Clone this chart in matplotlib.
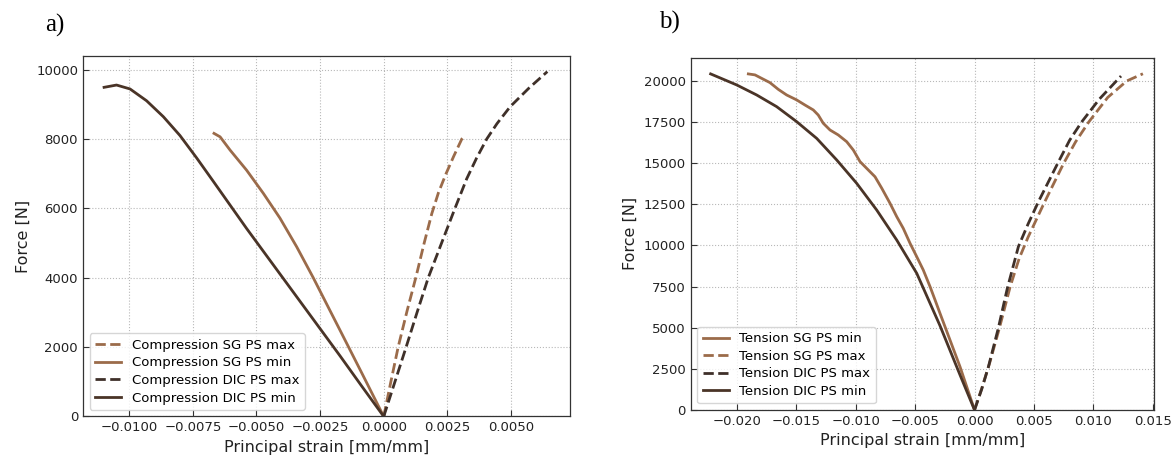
import matplotlib.pyplot as plt

# Compression test (panel a), strain in mm/mm, force in N
comp_sg_max_x = [0.0, 0.00028, 0.00057, 0.00092, 0.00127, 0.00159, 0.00189, 0.00215, 0.00245,
                 0.00275, 0.00307, 0.0032]
comp_sg_max_y = [0, 1000, 2010, 3050, 4030, 5000, 5850, 6450, 7000,
                 7500, 8000, 8110]
comp_sg_min_x = [0.0, -0.00086, -0.00172, -0.00211, -0.00277, -0.00342, -0.00408, -0.00473,
                 -0.00539, -0.00604, -0.00643, -0.00667]
comp_sg_min_y = [0, 1250, 2490, 3050, 4000, 4890, 5720, 6430,
                 7100, 7680, 8060, 8160]
comp_dic_max_x = [0.0, 0.00044, 0.00088, 0.00131, 0.00175, 0.0023, 0.0028, 0.00326, 0.00365,
                  0.00405, 0.00445, 0.00497, 0.0057, 0.00643]
comp_dic_max_y = [0, 1000, 2000, 3000, 4000, 5050, 6000, 6850, 7450,
                  8000, 8440, 8930, 9460, 9940]
comp_dic_min_x = [0.0, -0.00086, -0.00172, -0.00277, -0.00408, -0.00539, -0.0067, -0.00735,
                  -0.00801, -0.00866, -0.00932, -0.00997, -0.0105, -0.01099]
comp_dic_min_y = [0, 870, 1750, 2800, 4110, 5420, 6780, 7450,
                  8100, 8640, 9100, 9440, 9553, 9487]

# Tension test (panel b)
ten_sg_min_x = [0.0, -0.00122, -0.0029, -0.00332, -0.00374, -0.00431, -0.00486, -0.00542,
                -0.00599, -0.00654, -0.00711, -0.0078, -0.00837, -0.00907, -0.00963, -0.01019,
                -0.01075, -0.01146, -0.01215, -0.01272, -0.01314, -0.01356, -0.01426, -0.01496,
                -0.0158, -0.0165, -0.0172, -0.0179, -0.01846, -0.01902]
ten_sg_min_y = [0, 2630, 5870, 6690, 7500, 8510, 9320, 10130,
                11040, 11750, 12570, 13480, 14180, 14690, 15100, 15800,
                16310, 16720, 17020, 17430, 17930, 18240, 18540, 18850,
                19150, 19490, 19900, 20160, 20370, 20430]
ten_sg_max_x = [0.0, 0.0006, 0.00125, 0.0021, 0.0030, 0.00375, 0.0045, 0.0058, 0.0075, 0.0085,
                0.0096, 0.0112, 0.0128, 0.01416]
ten_sg_max_y = [0, 1300, 2800, 5000, 7500, 9200, 10500, 12500, 15000, 16300,
                17500, 19000, 20000, 20440]
ten_dic_max_x = [0.0, 0.0006, 0.00116, 0.0020, 0.00276, 0.00369, 0.0045, 0.0054, 0.0070, 0.0080,
                 0.0090, 0.0105, 0.01232]
ten_dic_max_y = [0, 1250, 2600, 4970, 7400, 9930, 11300, 12700, 15000, 16400,
                 17500, 18900, 20300]
ten_dic_min_x = [0.0, -0.00122, -0.0029, -0.00486, -0.00654, -0.00823, -0.00991, -0.01159,
                 -0.01327, -0.01496, -0.01664, -0.01832, -0.0200, -0.02219]
ten_dic_min_y = [0, 2130, 5120, 8310, 10330, 12160, 13780, 15200,
                 16510, 17530, 18440, 19150, 19760, 20430]

light = '#9b6b4a'
dark = '#3f3029'
darkbrown = '#4a3427'

plt.rcParams['font.family'] = 'DejaVu Sans'

fig = plt.figure(figsize=(11.75, 4.59), dpi=100)
ax1 = fig.add_axes([0.0706, 0.0926, 0.4145, 0.7854])
ax2 = fig.add_axes([0.5878, 0.1068, 0.3946, 0.7675])


def style_axes(ax):
    ax.grid(True, linestyle=':', color='#b8b8b8', linewidth=0.8)
    ax.set_axisbelow(True)
    ax.tick_params(direction='in', labelsize=9.5, length=4, color='#333333',
                   labelcolor='#222222')
    for spine in ax.spines.values():
        spine.set_color('#333333')
        spine.set_linewidth(0.9)
    ax.set_xlabel('Principal strain [mm/mm]', fontsize=11.5, color='#222222')
    ax.set_ylabel('Force [N]', fontsize=11.5, color='#222222')


lw = 2.0
ax1.plot(comp_sg_max_x, comp_sg_max_y, '--', color=light, lw=lw, label='Compression SG PS max')
ax1.plot(comp_sg_min_x, comp_sg_min_y, '-', color=light, lw=lw, label='Compression SG PS min')
ax1.plot(comp_dic_max_x, comp_dic_max_y, '--', color=dark, lw=lw, label='Compression DIC PS max')
ax1.plot(comp_dic_min_x, comp_dic_min_y, '-', color=darkbrown, lw=lw, label='Compression DIC PS min')
ax1.set_xlim(-0.01182, 0.00732)
ax1.set_ylim(0, 10390)
ax1.set_xticks([-0.01, -0.0075, -0.005, -0.0025, 0.0, 0.0025, 0.005])
ax1.set_xticklabels(['\u22120.0100', '\u22120.0075', '\u22120.0050', '\u22120.0025',
                     '0.0000', '0.0025', '0.0050'])
ax1.set_yticks([0, 2000, 4000, 6000, 8000, 10000])
style_axes(ax1)
ax1.legend(loc='lower left', fontsize=9.5, handlelength=2.0, borderpad=0.4,
           labelspacing=0.35, framealpha=0.8)

ax2.plot(ten_sg_min_x, ten_sg_min_y, '-', color=light, lw=lw, label='Tension SG PS min')
ax2.plot(ten_sg_max_x, ten_sg_max_y, '--', color=light, lw=lw, label='Tension SG PS max')
ax2.plot(ten_dic_max_x, ten_dic_max_y, '--', color=dark, lw=lw, label='Tension DIC PS max')
ax2.plot(ten_dic_min_x, ten_dic_min_y, '-', color=darkbrown, lw=lw, label='Tension DIC PS min')
ax2.set_xlim(-0.02387, 0.01512)
ax2.set_ylim(0, 21416)
ax2.set_xticks([-0.02, -0.015, -0.01, -0.005, 0.0, 0.005, 0.01, 0.015])
ax2.set_xticklabels(['\u22120.020', '\u22120.015', '\u22120.010', '\u22120.005',
                     '0.000', '0.005', '0.010', '0.015'])
ax2.set_yticks([0, 2500, 5000, 7500, 10000, 12500, 15000, 17500, 20000])
style_axes(ax2)
ax2.legend(loc='lower left', fontsize=9.5, handlelength=2.0, borderpad=0.4,
           labelspacing=0.35, framealpha=0.8)

fig.text(0.0383, 0.945, 'a)', fontsize=18, family='Liberation Serif', va='center')
fig.text(0.561, 0.950, 'b)', fontsize=18, family='Liberation Serif', va='center')

fig.savefig('out.png', dpi=100)
